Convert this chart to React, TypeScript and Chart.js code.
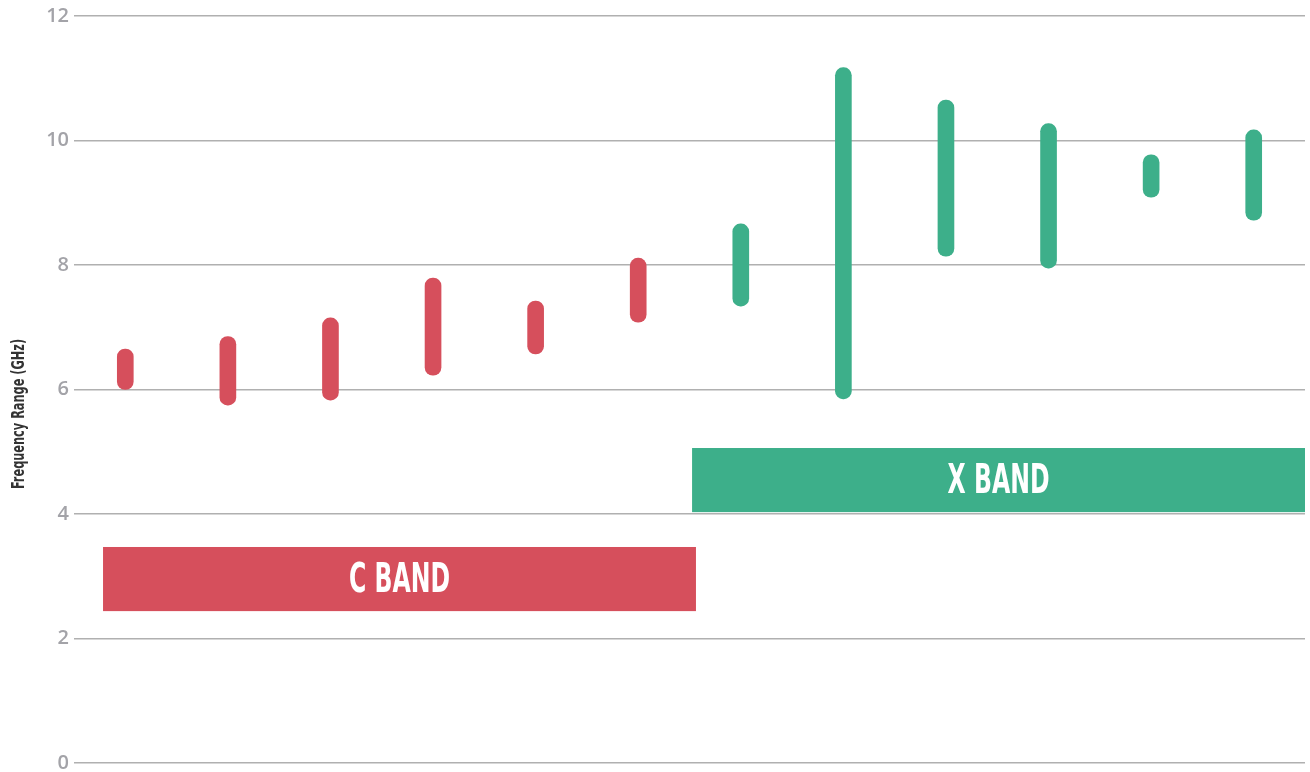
import React, { useEffect, useRef } from "react";
import { Chart, registerables } from "chart.js";

Chart.register(...registerables);

// ---- data ----
const categories = ["1", "2", "3", "4", "5", "6", "7", "8", "9", "10", "11", "12"];
const bandOf = ["C", "C", "C", "C", "C", "C", "X", "X", "X", "X", "X", "X"];
const lowValues = [6.0, 5.75, 5.83, 6.23, 6.57, 7.08, 7.34, 5.85, 8.14, 7.95, 9.09, 8.72];
const highValues = [6.65, 6.85, 7.15, 7.79, 7.42, 8.11, 8.66, 11.17, 10.65, 10.27, 9.77, 10.17];
const yTicks = [0, 2, 4, 6, 8, 10, 12];

const bandLabels = ["C BAND", "X BAND"];
const bandKeys = ["C", "X"];
const bandFromIndex = [-0.217, 5.525];
const bandToIndex = [5.563, 11.5];
const bandLow = [2.44, 4.03];
const bandHigh = [3.47, 5.06];

const yTitle = "Frequency Range (GHz)";

const RED = "#d64f5c";
const GREEN = "#3daf8a";
const bandColors: Record<string, string> = { C: RED, X: GREEN };

const CONDENSED = "'Liberation Sans Narrow', 'DejaVu Sans Condensed', 'Roboto', sans-serif";

export default function App() {
  const ref = useRef<HTMLCanvasElement | null>(null);

  useEffect(() => {
    if (!ref.current) return;

    const bandPlugin = {
      id: "bands",
      afterDatasetsDraw(chart: any) {
        const { ctx, scales } = chart;
        const x = scales.x;
        const y = scales.y;
        ctx.save();
        for (let i = 0; i < bandLabels.length; i++) {
          const x0 = x.getPixelForValue(bandFromIndex[i]);
          const x1 = x.getPixelForValue(bandToIndex[i]);
          const y0 = y.getPixelForValue(bandHigh[i]);
          const y1 = y.getPixelForValue(bandLow[i]);
          ctx.fillStyle = bandColors[bandKeys[i]];
          ctx.fillRect(x0, y0, x1 - x0, y1 - y0);
          const cx = (x0 + x1) / 2;
          const cy = (y0 + y1) / 2;
          ctx.save();
          ctx.translate(cx, cy);
          ctx.scale(0.64, 1);
          ctx.fillStyle = "#ffffff";
          ctx.font = `bold 41px ${CONDENSED}`;
          ctx.textAlign = "center";
          ctx.textBaseline = "middle";
          ctx.fillText(bandLabels[i], 0, 2);
          ctx.restore();
        }
        // y axis title
        ctx.save();
        ctx.translate(19, 414);
        ctx.rotate(-Math.PI / 2);
        ctx.scale(0.7, 1);
        ctx.fillStyle = "#333333";
        ctx.font = `bold 18px ${CONDENSED}`;
        ctx.textAlign = "center";
        ctx.textBaseline = "middle";
        ctx.fillText(yTitle, 0, 0);
        ctx.restore();
        ctx.restore();
      },
    };

    const cData = categories.map((_, i) => (bandOf[i] === "C" ? [lowValues[i], highValues[i]] : null));
    const xData = categories.map((_, i) => (bandOf[i] === "X" ? [lowValues[i], highValues[i]] : null));

    const chart = new Chart(ref.current, {
      type: "bar",
      data: {
        labels: categories,
        datasets: [
          {
            label: "C band",
            data: cData as any,
            backgroundColor: RED,
            barThickness: 16,
            borderRadius: 8,
            borderSkipped: false,
            grouped: false,
          } as any,
          {
            label: "X band",
            data: xData as any,
            backgroundColor: GREEN,
            barThickness: 16,
            borderRadius: 8,
            borderSkipped: false,
            grouped: false,
          } as any,
        ],
      },
      options: {
        animation: false,
        responsive: true,
        maintainAspectRatio: false,
        layout: { padding: { top: 16, right: 5, bottom: 9, left: 0 } },
        plugins: {
          legend: { display: false },
          tooltip: { enabled: false },
          title: { display: false },
        },
        scales: {
          x: {
            display: false,
            offset: true,
          },
          y: {
            min: 0,
            max: 12,
            afterBuildTicks: (s: any) => {
              s.ticks = yTicks.map((v) => ({ value: v }));
            },
            afterFit: (s: any) => {
              s.width = 74;
              s.paddingTop = 0;
              s.paddingBottom = 0;
            },
            border: { display: false },
            grid: { color: "#b0b0b0", lineWidth: 1.5, drawTicks: false },
            ticks: {
              color: "#a3a3a8",
              padding: 5,
              font: { family: "'Open Sans', sans-serif", size: 20, weight: 600 as any },
            },
          },
        },
      },
      plugins: [bandPlugin],
    });

    return () => chart.destroy();
  }, []);

  return (
    <div style={{ position: "fixed", left: 0, top: 0, width: 1310, height: 772, background: "#fff" }}>
      <canvas ref={ref} />
    </div>
  );
}
